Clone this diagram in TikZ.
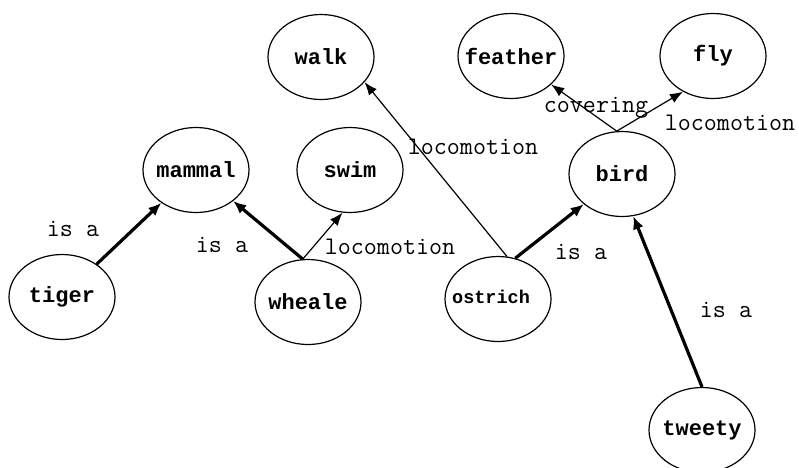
\documentclass[tikz,border=0pt]{standalone}
\usepackage{fontspec}
\newfontfamily\conceptfont{Liberation Mono}
\usepackage{tikz}
\usetikzlibrary{shapes.geometric,arrows.meta}

\newcommand{\cname}[1]{\makebox[0pt]{#1}}

\begin{document}
\begin{tikzpicture}[
  x=1pt, y=-1pt,
  concept/.style={draw,ellipse,line width=1.2pt,minimum width=106pt,minimum height=85pt,
    inner sep=0pt,font=\fontsize{22}{22}\selectfont\conceptfont\bfseries},
  isa/.style={-{Latex[length=13pt,width=11pt]},line width=3.2pt},
  has/.style={-{Latex[length=13pt,width=10pt]},line width=1.2pt},
  rel/.style={inner sep=0pt,font=\fontsize{25.3}{25}\selectfont\ttfamily}
  ]
  \clip (0,0) rectangle (799,467);

  % concepts
  \node[concept] (walk)    at (321,57)  {\cname{walk}};
  \node[concept] (feather) at (511,56)  {\cname{feather}};
  \node[concept] (fly)     at (713,56)  {\cname{fly}};
  \node[concept] (mammal)  at (196,170) {\cname{mammal}};
  \node[concept] (swim)    at (350,170) {\cname{swim}};
  \node[concept] (bird)    at (622,174) {\cname{bird}};
  \node[concept] (tiger)   at (62,297)  {\cname{tiger}};
  \node[concept] (wheale)  at (308,302) {\cname{wheale}};
  \node[concept,font=\fontsize{18.5}{18.5}\selectfont\conceptfont\bfseries]
                 (ostrich) at (498,299) {\cname{\raisebox{5pt}{ostrich}\hspace{14pt}}};
  \node[concept] (tweety)  at (702,430) {\cname{tweety}};

  % links
  \draw[isa] (tiger) -- (mammal);
  \draw[isa] (wheale.97) -- (mammal);
  \draw[has] (wheale.97) -- (swim.-100);
  \draw[has] (ostrich.78) -- (walk.-30);
  \draw[isa] (ostrich.67) -- (bird);
  \draw[isa] (tweety.north) -- (bird.-75);
  \draw[has] (bird.97) -- (feather);
  \draw[has] (bird.97) -- (fly.-130);

  % link labels
  \node[rel] (isa1)  at (73,229)  {is a};
  \node[rel] (isa2)  at (222,245) {is a};
  \node[rel] (loco1) at (390,247) {locomotion};
  \node[rel] (loco2) at (473,147) {locomotion};
  \node[rel] (isa3)  at (581,252) {is a};
  \node[rel] (cover) at (596,108) {covering};
  \node[rel] (loco3) at (730,123) {locomotion};
  \node[rel] (isa4)  at (726,310) {is a};
\end{tikzpicture}
\end{document}
